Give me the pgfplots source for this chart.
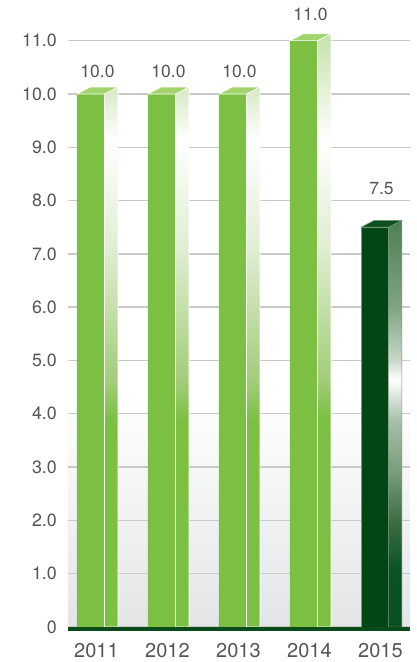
\documentclass[border=0pt]{standalone}
\usepackage{fontspec}
\setmainfont{TeX Gyre Heros}
\usepackage{pgfplots}
\pgfplotsset{compat=1.18}
\usepackage{pgfplotstable}

\definecolor{gfront}{HTML}{7CC043}
\definecolor{gtop}{HTML}{A3D36D}
\definecolor{dfront}{HTML}{024616}
\definecolor{dtop}{HTML}{0D4F1E}
\definecolor{dedge}{HTML}{7A9A7E}
\definecolor{gridgray}{HTML}{C9C9C9}
\definecolor{txtgray}{HTML}{555555}
\definecolor{axisgreen}{HTML}{0B4A1B}
\definecolor{ga}{HTML}{A3CD7D}
\definecolor{gb}{HTML}{B0D58C}
\definecolor{gc}{HTML}{CDE3B6}
\definecolor{gd}{HTML}{E0EED3}
\definecolor{gtopA}{HTML}{D6E9C4}
\definecolor{gtopB}{HTML}{C5E1AB}
\definecolor{da}{HTML}{0A4F22}
\definecolor{db}{HTML}{0B5225}
\definecolor{dc}{HTML}{3F6F47}
\definecolor{dd}{HTML}{7A9E7E}
\definecolor{de}{HTML}{A8C0A9}
\definecolor{df}{HTML}{C8D8C8}
\definecolor{dg}{HTML}{7FA483}
\definecolor{dh}{HTML}{4E7F56}
\definecolor{bggray}{HTML}{E4E5E7}

% side face of 2011-2013
\pgfdeclareverticalshading{gsideA}{100bp}{%
 color(0bp)=(gfront); color(25bp)=(gfront); color(44.2bp)=(gfront);
 color(47.9bp)=(ga); color(50.7bp)=(gb);
 color(56.2bp)=(gc); color(60.2bp)=(gd);
 color(70.1bp)=(white); color(75bp)=(gtopA); color(100bp)=(gtopA)}
% side face of 2014
\pgfdeclareverticalshading{gsideB}{100bp}{%
 color(0bp)=(gfront); color(25bp)=(gfront); color(42.7bp)=(gfront);
 color(46bp)=(ga); color(48.5bp)=(gb);
 color(53.5bp)=(gc); color(57.1bp)=(gd);
 color(66bp)=(white); color(75bp)=(gtopB); color(100bp)=(gtopB)}
% side face of 2015
\pgfdeclareverticalshading{dside}{100bp}{%
 color(0bp)=(da); color(25bp)=(da); color(32bp)=(db);
 color(38.2bp)=(dc); color(44.3bp)=(dd); color(50.4bp)=(de);
 color(55.4bp)=(white); color(57.8bp)=(df); color(64.3bp)=(dg);
 color(75bp)=(dh); color(100bp)=(dh)}
% plot area background
\pgfdeclareverticalshading{bgshade}{100bp}{%
 color(0bp)=(bggray); color(25bp)=(bggray);
 color(43.3bp)=(white); color(100bp)=(white)}

\pgfplotstableread{
x ly lab
0 10.31 10.0
1 10.31 10.0
2 10.31 10.0
3 11.375 11.0
4 8.12 7.5
}\labtable

\begin{document}
\begin{tikzpicture}
\useasboundingbox (-68pt,-35pt) rectangle (349pt,627pt);
\begin{axis}[
  scale only axis,
  width=342pt, height=627pt,
  xmin=-0.415, xmax=4.402,
  ymin=0, ymax=11.7636,
  clip=false,
  axis line style={draw=none},
  tick style={draw=none},
  major tick length=0pt,
  axis background/.style={shade, shading=bgshade},
  ymajorgrids,
  grid style={color=gridgray, line width=1.4pt},
  ytick={0,1,2,3,4,5,6,7,8,9,10,11},
  yticklabels={0,1.0,2.0,3.0,4.0,5.0,6.0,7.0,8.0,9.0,10.0,11.0},
  xtick={0,1,2,3,4},
  xticklabels={2011,2012,2013,2014,2015},
  yticklabel style={font=\fontsize{17.8}{20}\selectfont, text=txtgray, anchor=east, inner sep=0pt, xshift=-11pt},
  xticklabel style={font=\fontsize{20}{23}\selectfont, text=txtgray, anchor=north, inner sep=0pt, yshift=-16pt, xshift=-1pt},
]
% front faces
\addplot[ybar, bar width=27.5pt, bar shift=-6.75pt, fill=gfront, draw=none]
  coordinates {(0,10) (1,10) (2,10) (3,11)};
\addplot[ybar, bar width=27.5pt, bar shift=-6.75pt, fill=dfront, draw=dedge, line width=0.5pt]
  coordinates {(4,7.5)};
% side faces
\addplot[shade, shading=gsideA, draw=white, line width=0.8pt]
  coordinates {(0.099,0) (0.099,10) (0.289,10.131) (0.289,0) (0.099,0)};
\addplot[shade, shading=gsideA, draw=white, line width=0.8pt]
  coordinates {(1.099,0) (1.099,10) (1.289,10.131) (1.289,0) (1.099,0)};
\addplot[shade, shading=gsideA, draw=white, line width=0.8pt]
  coordinates {(2.099,0) (2.099,10) (2.289,10.131) (2.289,0) (2.099,0)};
\addplot[shade, shading=gsideB, draw=white, line width=0.8pt]
  coordinates {(3.099,0) (3.099,11) (3.289,11.131) (3.289,0) (3.099,0)};
\addplot[shade, shading=dside, draw=dedge, line width=0.5pt]
  coordinates {(4.099,0) (4.099,7.5) (4.289,7.631) (4.289,0) (4.099,0)};
% top faces
\addplot[fill=gtop, draw=white, line width=0.6pt]
  coordinates {(-0.289,10) (0.099,10) (0.289,10.131) (-0.099,10.131) (-0.289,10)};
\addplot[fill=gtop, draw=white, line width=0.6pt]
  coordinates {(0.711,10) (1.099,10) (1.289,10.131) (0.901,10.131) (0.711,10)};
\addplot[fill=gtop, draw=white, line width=0.6pt]
  coordinates {(1.711,10) (2.099,10) (2.289,10.131) (1.901,10.131) (1.711,10)};
\addplot[fill=gtop, draw=white, line width=0.6pt]
  coordinates {(2.711,11) (3.099,11) (3.289,11.131) (2.901,11.131) (2.711,11)};
\addplot[fill=dtop, draw=dedge, line width=0.5pt]
  coordinates {(3.711,7.5) (4.099,7.5) (4.289,7.631) (3.901,7.631) (3.711,7.5)};
% value labels
\addplot[draw=none, mark=none, nodes near coords, point meta=explicit symbolic,
  nodes near coords style={anchor=base, inner sep=0pt, font=\fontsize{17.5}{20}\selectfont, text=txtgray}]
  table[x=x, y=ly, meta=lab] {\labtable};
% bottom axis line
\addplot[color=axisgreen, line width=3.8pt] coordinates {(-0.415,-0.035) (4.402,-0.035)};
\end{axis}
\end{tikzpicture}
\end{document}
